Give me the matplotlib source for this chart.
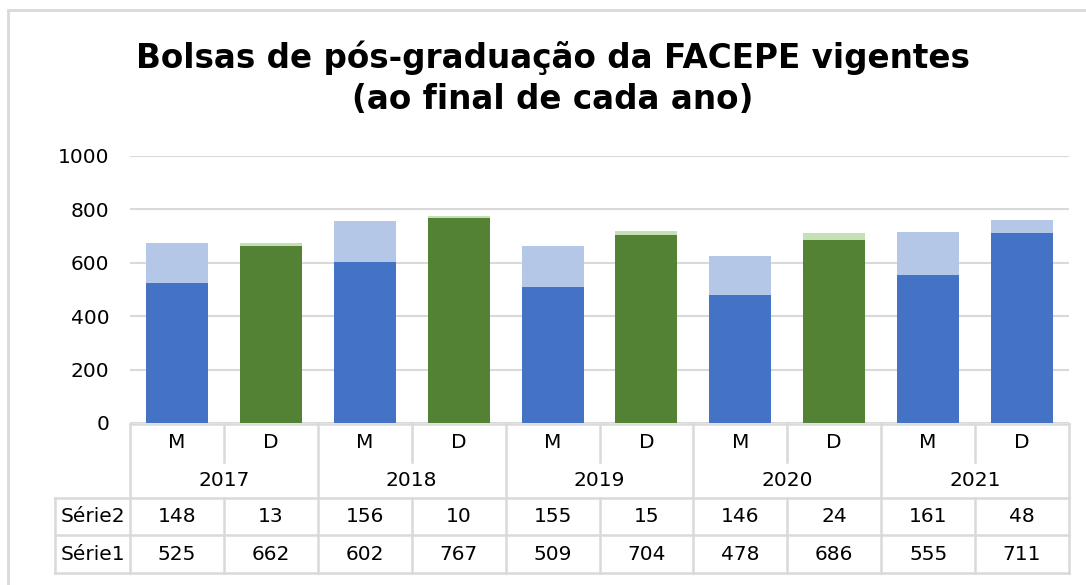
import matplotlib.pyplot as plt
import numpy as np
from matplotlib.patches import Rectangle
from matplotlib.lines import Line2D

# data
anos = ["2017", "2018", "2019", "2020", "2021"]
niveis = ["M", "D"]
serie1 = [525, 662, 602, 767, 509, 704, 478, 686, 555, 711]
serie2 = [148, 13, 156, 10, 155, 15, 146, 24, 161, 48]
titulo = "Bolsas de pós-graduação da FACEPE vigentes\n(ao final de cada ano)"

blue, lblue = "#4472C4", "#B4C7E7"
green, lgreen = "#548235", "#C5E0B4"
grid_c = "#D9D9D9"

W, H = 1086, 585
fig = plt.figure(figsize=(W / 100, H / 100), dpi=100)
ax = fig.add_axes([130 / W, 1 - 423 / H, (1069 - 130) / W, (423 - 156) / H])

x = np.arange(len(serie1))
c1 = [green if (i % 2 == 1 and i < 9) else blue for i in x]
c2 = [lgreen if (i % 2 == 1 and i < 9) else lblue for i in x]
ax.bar(x, serie1, width=0.66, color=c1, zorder=3)
ax.bar(x, serie2, bottom=serie1, width=0.66, color=c2, zorder=3)

ax.set_xlim(-0.5, len(x) - 0.5)
ax.set_ylim(0, 1000)
ax.set_yticks(range(0, 1001, 200))
ax.yaxis.grid(True, color=grid_c, lw=1.5, zorder=0)
for s in ax.spines.values():
    s.set_visible(False)
ax.tick_params(axis="y", length=0, labelsize=14.5, pad=15)
ax.set_xticks([])

# data table below the axis
tr = ax.get_xaxis_transform()
ph = 423 - 156
def yy(px):
    return -(px - 423) / ph

rows_y = [yy(424), yy(462), yy(498), yy(535), yy(573)]
left_x = -0.5 - (127 - 52) / 93.9
lk = dict(color=grid_c, lw=1.8, transform=tr, clip_on=False)
fs = 14.5

# horizontal lines
ax.add_line(Line2D([-0.5, 9.5], [rows_y[0]] * 2, **lk))
for yv in rows_y[2:]:
    ax.add_line(Line2D([left_x, 9.5], [yv] * 2, **lk))
# vertical lines
for k in range(0, 11, 2):
    ax.add_line(Line2D([k - 0.5] * 2, [rows_y[0], rows_y[4]], **lk))
for k in range(1, 10, 2):
    ax.add_line(Line2D([k - 0.5] * 2, [rows_y[0], rows_y[1]], **lk))
    ax.add_line(Line2D([k - 0.5] * 2, [rows_y[2], rows_y[4]], **lk))
ax.add_line(Line2D([left_x] * 2, [rows_y[2], rows_y[4]], **lk))

for i in x:
    ax.text(i, (rows_y[0] + rows_y[1]) / 2, niveis[i % 2], transform=tr,
            ha="center", va="center", fontsize=fs)
    ax.text(i, (rows_y[2] + rows_y[3]) / 2, str(serie2[i]), transform=tr,
            ha="center", va="center", fontsize=fs)
    ax.text(i, (rows_y[3] + rows_y[4]) / 2, str(serie1[i]), transform=tr,
            ha="center", va="center", fontsize=fs)
for j, a in enumerate(anos):
    ax.text(2 * j + 0.5, (rows_y[1] + rows_y[2]) / 2, a, transform=tr,
            ha="center", va="center", fontsize=fs)
for r, lab in [(2, "Série2"), (3, "Série1")]:
    ax.text((left_x - 0.5) / 2, (rows_y[r] + rows_y[r + 1]) / 2, lab,
            transform=tr, ha="center", va="center", fontsize=fs)

fig.text(553 / W, 1 - 78 / H, titulo, ha="center", va="center",
         fontsize=23.5, fontweight="bold", family="DejaVu Sans",
         linespacing=1.3)

# chart frame
fig.patches.append(Rectangle((8 / W, -0.1), 1.2, 1 - 10 / H + 0.1,
                             transform=fig.transFigure, fill=False,
                             ec=grid_c, lw=2))

fig.savefig("out.png", dpi=100)
